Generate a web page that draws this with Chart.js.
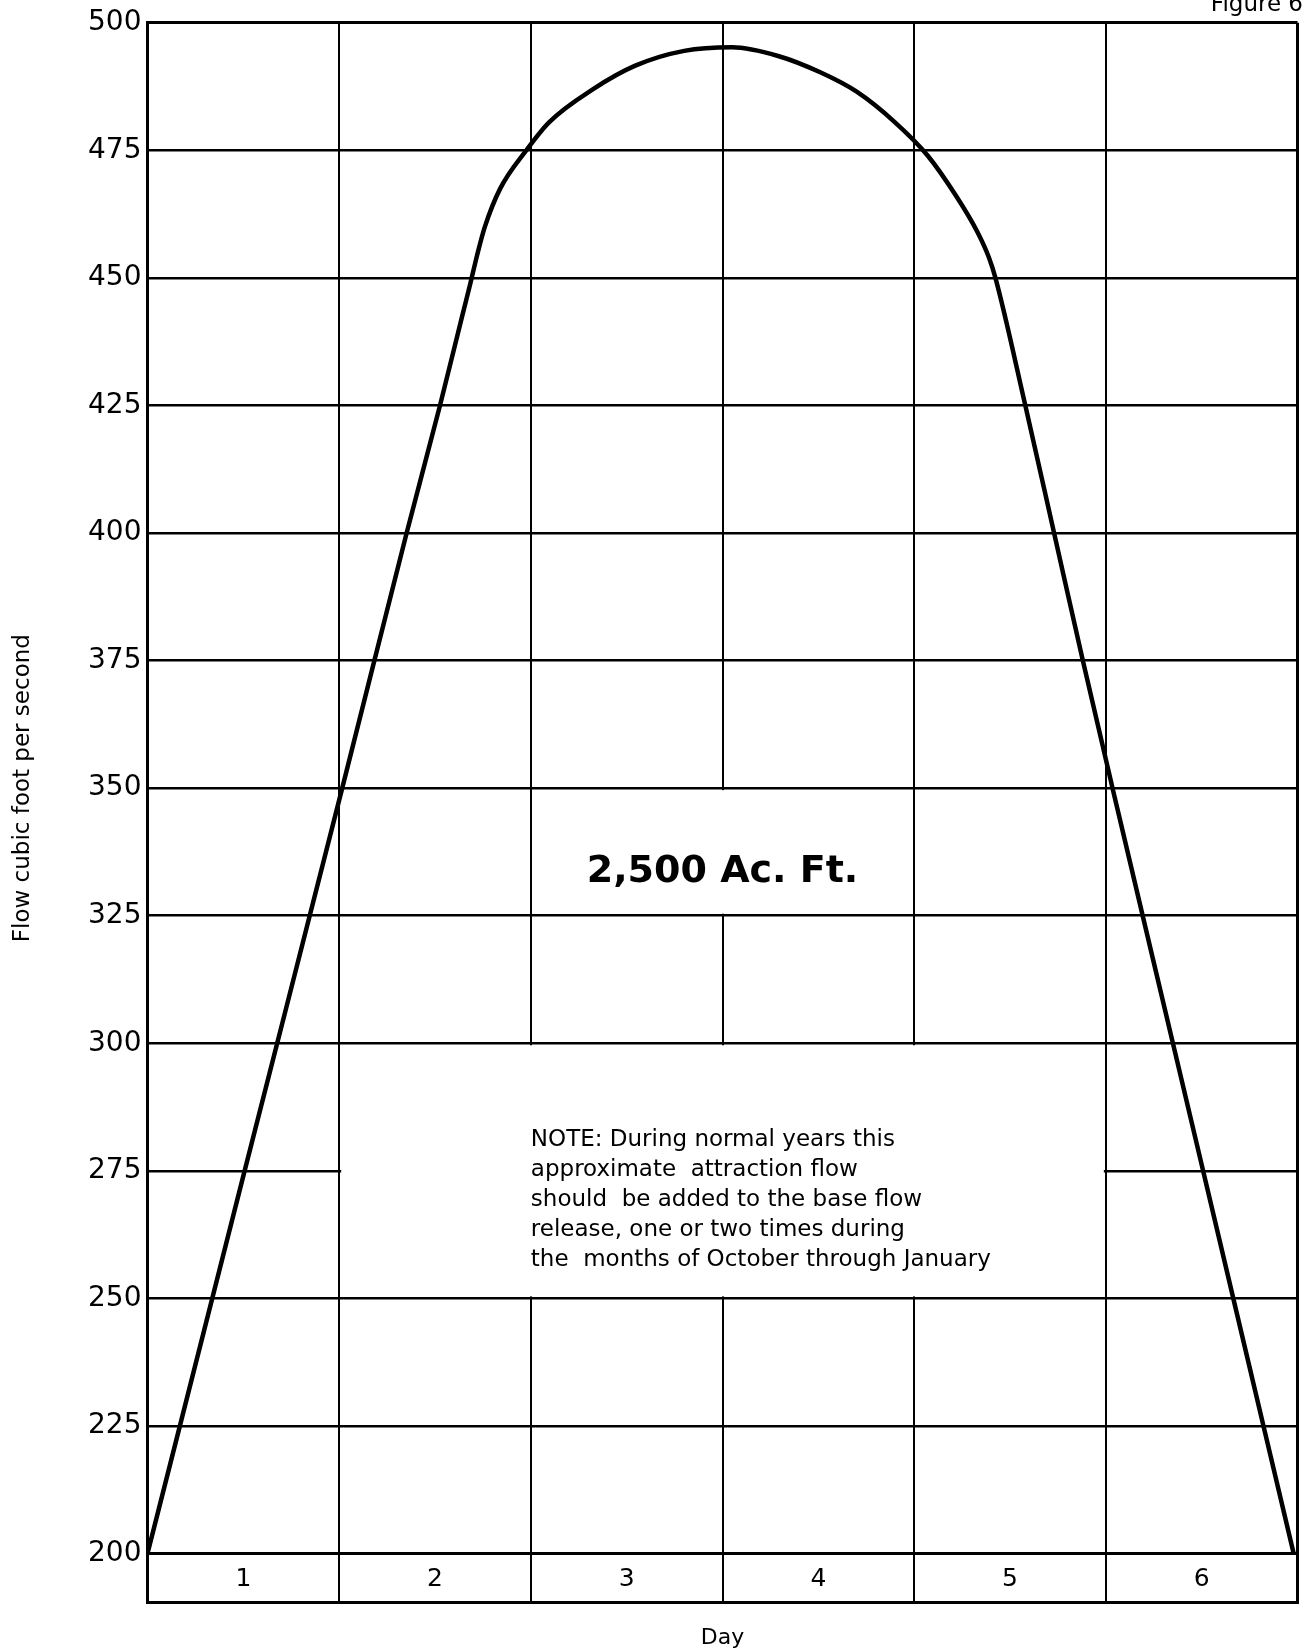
<!DOCTYPE html>
<html lang="en">
<head>
    <meta charset="UTF-8">
    <title>Figure 6 - Attraction flow</title>
    <script src="https://cdn.jsdelivr.net/npm/chart.js"></script>
    <style>
        body {
            margin: 0;
            padding: 0;
            background: #ffffff;
        }
        canvas {
            display: block;
        }
    </style>
</head>
<body>
    <canvas id="flowChart" width="1306" height="1651"></canvas>

    <script>
        // day columns and y ticks
        const dayLabels = ["1", "2", "3", "4", "5", "6"];
        const flowTicks = [200, 225, 250, 275, 300, 325, 350, 375, 400, 425, 450, 475, 500];

        // hydrograph (day, cfs)
        const curveDays = [0, 0.5, 1.016, 1.352, 1.526, 1.645, 1.685, 1.72, 1.76, 1.84, 1.976, 2.095, 2.325, 2.545, 2.8, 3.05,
                           3.29, 3.51, 3.70, 3.90, 4.07, 4.22, 4.33, 4.39, 4.424, 4.58, 4.73, 4.88, 5.035, 5.35, 5.665, 5.98];
        const curveFlow = [200, 274, 350, 400, 425, 443, 449, 454.5, 460, 467.5, 475, 480.5, 487, 491.6, 494.5, 495.2,
                           493.5, 490.3, 486.5, 480.5, 474, 466, 459, 454, 450, 425, 400, 375, 350, 300, 250, 200];

        const volumeLabel = "2,500 Ac. Ft.";
        const noteLines = [
            "NOTE: During normal years this",
            "approximate  attraction flow",
            "should  be added to the base flow",
            "release, one or two times during",
            "the  months of October through January"
        ];
        const figureLabel = "Figure 6";

        const FONT = "'DejaVu Sans', sans-serif";
        const dayRowHeight = 49;

        // white boxes where the grid is left open for the text
        const gridGaps = {
            id: "gridGaps",
            beforeDatasetsDraw(chart) {
                const ctx = chart.ctx;
                const x = chart.scales.x;
                const y = chart.scales.y;
                ctx.save();
                ctx.fillStyle = "#ffffff";
                // note box: days 1-5, 250-300
                const nx1 = x.getPixelForValue(1) + 2;
                const nx2 = x.getPixelForValue(5) - 2;
                const ny1 = y.getPixelForValue(300) + 2;
                const ny2 = y.getPixelForValue(250) - 2;
                ctx.fillRect(nx1, ny1, nx2 - nx1, ny2 - ny1);
                // volume label cell: no day-3 line between 325 and 350
                const vx = x.getPixelForValue(3);
                const vy1 = y.getPixelForValue(350) + 2;
                const vy2 = y.getPixelForValue(325) - 2;
                ctx.fillRect(vx - 4, vy1, 8, vy2 - vy1);
                ctx.restore();
            },
            afterDraw(chart) {
                const ctx = chart.ctx;
                const x = chart.scales.x;
                const y = chart.scales.y;
                ctx.save();
                // bottom edge of the day row
                ctx.strokeStyle = "#000";
                ctx.lineWidth = 3;
                ctx.beginPath();
                ctx.moveTo(x.left - 1.5, x.top + dayRowHeight);
                ctx.lineTo(x.right + 1.5, x.top + dayRowHeight);
                ctx.stroke();

                ctx.fillStyle = "#000";
                ctx.font = "bold 38px " + FONT;
                ctx.textAlign = "center";
                ctx.textBaseline = "middle";
                ctx.fillText(volumeLabel, x.getPixelForValue(3), y.getPixelForValue(333.5));

                ctx.font = "23px " + FONT;
                ctx.textAlign = "left";
                const top = y.getPixelForValue(281);
                noteLines.forEach((line, i) => {
                    ctx.fillText(line, x.getPixelForValue(2), top + i * 30);
                });

                ctx.font = "23px " + FONT;
                ctx.textAlign = "right";
                ctx.textBaseline = "alphabetic";
                ctx.fillText(figureLabel, chart.width - 3, 11);
                ctx.restore();
            }
        };

        const points = curveDays.map((d, i) => ({ x: d, y: curveFlow[i] }));

        new Chart(document.getElementById("flowChart"), {
            type: "line",
            data: {
                datasets: [{
                    data: points,
                    borderColor: "#000",
                    borderWidth: 4.5,
                    pointRadius: 0,
                    fill: false,
                    cubicInterpolationMode: "monotone"
                }]
            },
            options: {
                responsive: false,
                animation: false,
                layout: { padding: { top: 19, right: 8.5, left: 0, bottom: 0 } },
                plugins: {
                    legend: { display: false },
                    tooltip: { enabled: false }
                },
                scales: {
                    x: {
                        type: "linear",
                        min: 0,
                        max: dayLabels.length,
                        afterBuildTicks: (scale) => {
                            const t = [];
                            for (let i = 0; i <= dayLabels.length; i++) {
                                t.push({ value: i });
                                if (i < dayLabels.length) t.push({ value: i + 0.5 });
                            }
                            scale.ticks = t;
                        },
                        afterFit: (scale) => { scale.height = 97.5; },
                        ticks: {
                            autoSkip: false,
                            maxRotation: 0,
                            padding: -38,
                            color: "#000",
                            font: { family: FONT, size: 25 },
                            callback: (v) => Number.isInteger(v) ? "" : dayLabels[Math.floor(v)]
                        },
                        grid: {
                            tickLength: dayRowHeight,
                            color: (c) => (c.tick && Number.isInteger(c.tick.value)) ? "#000" : "rgba(0,0,0,0)",
                            lineWidth: (c) => (c.tick && (c.tick.value === 0 || c.tick.value === dayLabels.length)) ? 3 : 2
                        },
                        border: { color: "#000", width: 3 },
                        title: {
                            display: true,
                            text: "Day",
                            color: "#000",
                            font: { family: FONT, size: 22 },
                            padding: { top: 0, bottom: 0 }
                        }
                    },
                    y: {
                        type: "linear",
                        min: flowTicks[0],
                        max: flowTicks[flowTicks.length - 1],
                        afterBuildTicks: (scale) => {
                            scale.ticks = flowTicks.map(v => ({ value: v }));
                        },
                        afterFit: (scale) => { scale.width = 147.5; },
                        ticks: {
                            padding: 6,
                            color: "#000",
                            font: { family: FONT, size: 28 }
                        },
                        grid: {
                            drawTicks: false,
                            color: "#000",
                            lineWidth: (c) => (c.tick && c.tick.value === 500) ? 3 : 2.5
                        },
                        border: { color: "#000", width: 3 },
                        title: {
                            display: true,
                            text: "Flow cubic foot per second",
                            color: "#000",
                            font: { family: FONT, size: 23 },
                            padding: { top: 9, bottom: 0 }
                        }
                    }
                }
            },
            plugins: [gridGaps]
        });
    </script>
</body>
</html>
